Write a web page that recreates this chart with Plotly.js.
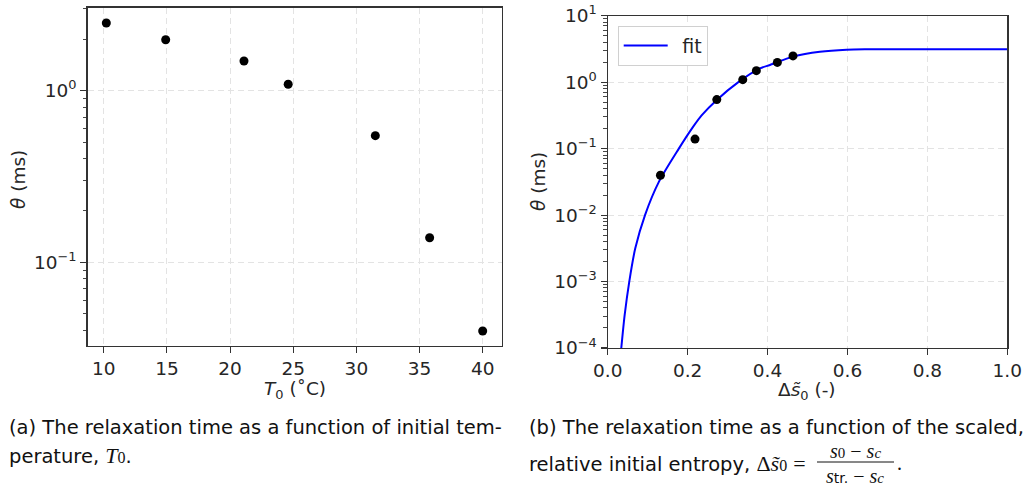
<!DOCTYPE html>
<html>
<head>
<meta charset="utf-8">
<script src="https://cdn.plot.ly/plotly-3.0.1.min.js"></script>
<style>html,body{margin:0;padding:0;background:#fff;}#chart{width:1028px;height:491px;}</style>
</head>
<body>
<div id="chart"></div>
<script>
// ---- data ----
const T0 = [10.2, 14.9, 21.1, 24.6, 31.5, 35.8, 40.0];          // initial temperature (°C)
const theta = [2.48, 1.98, 1.49, 1.09, 0.547, 0.139, 0.0398];   // relaxation time (ms)
const dS0 = [0.4637, 0.4245, 0.372, 0.338, 0.273, 0.2185, 0.132]; // scaled relative initial entropy
const fitX = [0.034, 0.0425, 0.054, 0.069, 0.0934, 0.128, 0.178, 0.214, 0.235, 0.273, 0.327, 0.381, 0.406, 0.464, 0.531, 0.598, 0.65, 0.8, 1.0];
const fitY = [1e-4, 3.16e-4, 1e-3, 3.16e-3, 1e-2, 3.16e-2, 0.1, 0.214, 0.316, 0.54, 1.0, 1.61, 1.81, 2.42, 2.87, 3.08, 3.12, 3.12, 3.12];
const leftXTicks = [10, 15, 20, 25, 30, 35, 40];
const leftYTickVals = [0.1, 1];
const leftYTickText = ['10<sup>−1</sup>', '10<sup>0</sup>'];
const rightXTickVals = [0, 0.2, 0.4, 0.6, 0.8, 1.0];
const rightXTickText = ['0.0', '0.2', '0.4', '0.6', '0.8', '1.0'];
const rightYTickVals = [1e-4, 1e-3, 1e-2, 1e-1, 1, 10];
const rightYTickText = ['10<sup>−4</sup>', '10<sup>−3</sup>', '10<sup>−2</sup>', '10<sup>−1</sup>', '10<sup>0</sup>', '10<sup>1</sup>'];

// minor log ticks (2..9 in each decade)
const minorLog = [];
for (let e = -5; e <= 1; e++) for (let m = 2; m <= 9; m++) minorLog.push(m * Math.pow(10, e));

const W = 1028, H = 491;
const px = x => x / W, py = y => 1 - y / H;
const FONT = 'DejaVu Sans';
const tickFont = {family: FONT, size: 18.5, color: '#262626'};
const axisCommon = {
  showline: true, mirror: true, linecolor: '#333', linewidth: 1.2,
  ticks: 'outside', ticklen: 6, tickwidth: 1.1, tickcolor: '#333',
  showgrid: true, gridcolor: '#e3e3e3', gridwidth: 1, griddash: '6px,4px',
  zeroline: false, tickfont: tickFont, fixedrange: true
};
const minorAxis = (overlay, anchor, domain, range) => ({
  overlaying: overlay, anchor: anchor, side: 'left', domain: domain, type: 'log', range: range,
  tickmode: 'array', tickvals: minorLog, ticks: 'outside', ticklen: 3.5, tickwidth: 0.9, tickcolor: '#333',
  showticklabels: false, showgrid: false, showline: false, zeroline: false, fixedrange: true
});

const leftYDomain = [py(346), py(7.5)], leftYRange = [-1.4875, 0.4846];
const rightYDomain = [py(348), py(15.7)], rightYRange = [-4, 1];

const traces = [
  {x: T0, y: theta, type: 'scatter', mode: 'markers', xaxis: 'x', yaxis: 'y',
   marker: {color: '#000', size: 9}, showlegend: false, hoverinfo: 'skip'},
  {x: fitX, y: fitY, type: 'scatter', mode: 'lines', xaxis: 'x2', yaxis: 'y2', name: '\u2002fit',
   line: {color: '#0000ff', width: 2, shape: 'spline', smoothing: 0.8}, hoverinfo: 'skip'},
  {x: dS0, y: theta, type: 'scatter', mode: 'markers', xaxis: 'x2', yaxis: 'y2',
   marker: {color: '#000', size: 9}, showlegend: false, hoverinfo: 'skip'},
  // invisible companions so the minor-tick axes are drawn
  {x: T0, y: theta, type: 'scatter', mode: 'markers', xaxis: 'x', yaxis: 'y3',
   marker: {opacity: 0}, showlegend: false, hoverinfo: 'skip'},
  {x: dS0, y: theta, type: 'scatter', mode: 'markers', xaxis: 'x2', yaxis: 'y4',
   marker: {opacity: 0}, showlegend: false, hoverinfo: 'skip'}
];

const ann = (x, y, text, opts) => Object.assign({
  xref: 'paper', yref: 'paper', x: px(x), y: py(y), text: text, showarrow: false,
  xanchor: 'center', yanchor: 'middle', font: {family: FONT, size: 18.5, color: '#262626'}
}, opts || {});

const capFont = {family: FONT, size: 19.5, color: '#111'};
const mathFont = {family: 'Liberation Serif', size: 20, color: '#111'};
const ser = (t, sz, it) => '<span style="font-family:Liberation Serif;font-size:' + sz + 'px' + (it ? ';font-style:italic' : '') + '">' + t + '</span>';

const layout = {
  width: W, height: H, margin: {l: 0, r: 0, t: 0, b: 0},
  paper_bgcolor: '#fff', plot_bgcolor: '#fff',
  xaxis: Object.assign({}, axisCommon, {domain: [px(87.5), px(501.5)], range: [8.71, 41.49],
    tickmode: 'array', tickvals: leftXTicks, anchor: 'y'}),
  yaxis: Object.assign({}, axisCommon, {domain: leftYDomain, type: 'log', range: leftYRange,
    tickmode: 'array', tickvals: leftYTickVals, ticktext: leftYTickText, anchor: 'x'}),
  xaxis2: Object.assign({}, axisCommon, {domain: [px(607.7), px(1007.3)], range: [0, 1],
    tickmode: 'array', tickvals: rightXTickVals, ticktext: rightXTickText, anchor: 'y2'}),
  yaxis2: Object.assign({}, axisCommon, {domain: rightYDomain, type: 'log', range: rightYRange,
    tickmode: 'array', tickvals: rightYTickVals, ticktext: rightYTickText, anchor: 'x2'}),
  yaxis3: minorAxis('y', 'x', leftYDomain, leftYRange),
  yaxis4: minorAxis('y2', 'x2', rightYDomain, rightYRange),
  showlegend: true,
  legend: {x: px(617.7), y: py(25.7), xanchor: 'left', yanchor: 'top', bgcolor: '#fff',
    bordercolor: '#d0d0d0', borderwidth: 1, font: {family: FONT, size: 19, color: '#262626'},
    itemwidth: 44},
  annotations: [
    ann(18, 180, '<i>θ</i> (ms)', {textangle: -90}),
    ann(295, 390, '<i>T</i><sub>0</sub> (˚C)'),
    ann(538, 182, '<i>θ</i> (ms)', {textangle: -90}),
    ann(807, 391, 'Δ<i>s̃</i><sub>0</sub> (-)'),
    ann(7, 427, '(a) The relaxation time as a function of initial tem-', {xanchor: 'left', font: capFont}),
    ann(7, 455, 'perature, ' + ser('T', 22, true) + ser('0', 16, false) + '.', {xanchor: 'left', font: capFont}),
    ann(527, 427, '(b) The relaxation time as a function of the scaled,', {xanchor: 'left', font: capFont}),
    ann(527, 463, 'relative initial entropy, ' + ser('Δ<i>s̃</i>', 22) + ser('0', 16) + ' ' + ser('=', 22), {xanchor: 'left', font: capFont}),
    ann(855, 451, '<i>s</i><span style="font-size:15px">0</span> − <i>s<span style="font-size:15px">c</span></i>', {font: mathFont}),
    ann(855, 476, '<i>s</i><span style="font-size:14px;font-family:DejaVu Sans">tr.</span> − <i>s<span style="font-size:15px">c</span></i>', {font: mathFont}),
    ann(899, 463, '.', {font: mathFont})
  ],
  shapes: [
    {type: 'line', xref: 'paper', yref: 'paper', x0: px(817), x1: px(894), y0: py(462), y1: py(462),
     line: {color: '#111', width: 1}}
  ]
};

Plotly.newPlot('chart', traces, layout, {staticPlot: true, displayModeBar: false});
</script>
</body>
</html>
